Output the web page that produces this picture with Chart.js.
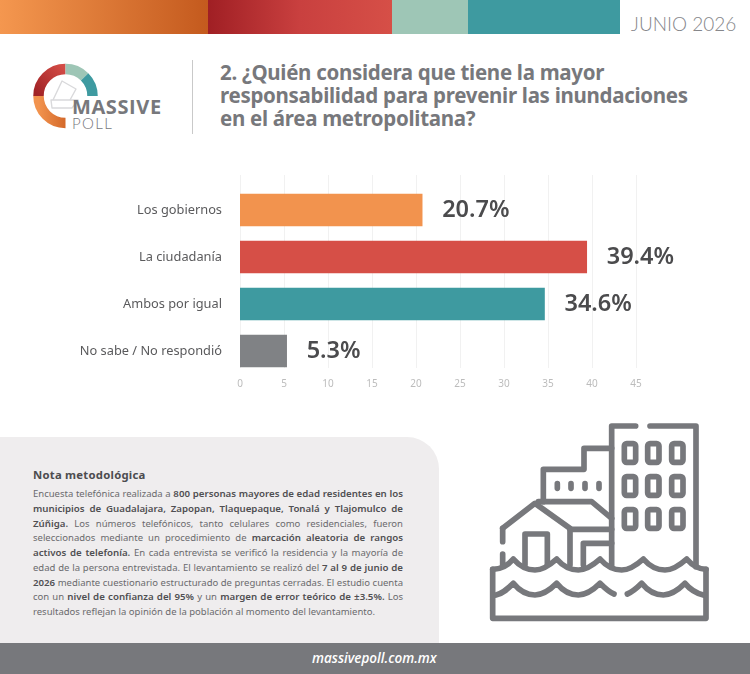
<!DOCTYPE html>
<html lang="es">
<head>
<meta charset="utf-8">
<title>Massive Poll - Junio 2026</title>
<script src="https://cdn.jsdelivr.net/npm/chart.js@4/dist/chart.umd.min.js"></script>
<style>
  html, body { margin: 0; padding: 0; background: #fff; }
  #page { position: relative; width: 750px; height: 674px; overflow: hidden; background: #fff; font-family: "Noto Sans", sans-serif; }
  #page > * { position: absolute; }
  .band { top: 0; height: 34px; }
  #month { left: 631px; top: 10px; font: 300 19px/28px Lato, sans-serif; color: #85868a; white-space: nowrap; }
  #divider { left: 192px; top: 60px; width: 1px; height: 74px; background: #c9c9c9; }
  #question { left: 220px; top: 61px; font: 700 20.5px/22.8px "Noto Sans", sans-serif; color: #77787c; white-space: nowrap; letter-spacing: -.3px; }
  #brand1 { left: 72px; top: 95px; font: 700 20px/24px "Open Sans", sans-serif; color: #77787c; letter-spacing: .6px; }
  #brand2 { left: 72px; top: 114px; font: 300 15px/18px Lato, sans-serif; color: #77787c; letter-spacing: 1.4px; }
  #chart { left: 0; top: 0; }
  #note { left: 0; top: 437px; width: 439px; height: 206px; background: #efedee; border-top-right-radius: 32px; }
  #noteTitle { left: 33px; top: 466px; font: 700 11.3px/18px "Noto Sans", sans-serif; color: #4c4c4e; letter-spacing: .25px; }
  #noteBody { left: 33px; top: 487px; width: 370px; font: 400 9.5px/14.75px "Noto Sans", sans-serif; color: #6a6a6d; }
  #noteBody div { text-align: justify; text-align-last: justify; white-space: nowrap; }
  #noteBody div:last-child { text-align-last: left; }
  #noteBody b { font-weight: 600; font-size: 9.7px; color: #4f4f52; }
  #footer { left: 0; top: 643px; width: 750px; height: 31px; background: #77787c; }
  #site { left: 312px; top: 647px; font: italic 600 13.5px/22px "Open Sans", sans-serif; color: #fff; white-space: nowrap; }
</style>
</head>
<body>
<div id="page">
  <div class="band" style="left:0;width:208px;background:linear-gradient(90deg,#f4974f,#c45a1e)"></div>
  <div class="band" style="left:208px;width:184px;background:linear-gradient(90deg,#a01f24,#c9403f 50%,#d64f47)"></div>
  <div class="band" style="left:392px;width:76px;background:#9ec6b6"></div>
  <div class="band" style="left:468px;width:152px;background:#3e9aa0"></div>
  <div id="month">JUNIO 2026</div>

  <!-- Brand mark: segmented ring and ballot box -->
  <svg style="left:0;top:50px" width="190" height="90" viewBox="0 50 190 90">
    <defs>
      <linearGradient id="ringOrange" x1="0" y1="0" x2="1" y2="0"><stop offset="0" stop-color="#f2934e"/><stop offset="1" stop-color="#d4692a"/></linearGradient>
      <linearGradient id="ringRed" x1="0" y1="1" x2="1" y2="0"><stop offset="0" stop-color="#a02225"/><stop offset="1" stop-color="#d34c46"/></linearGradient>
    </defs>
    <g fill="none" stroke-width="10.5">
      <path d="M38.5 96 A27 27 0 0 0 65.5 123" stroke="url(#ringOrange)"/>
      <path d="M38.5 96 A27 27 0 0 1 65.5 69" stroke="url(#ringRed)"/>
      <path d="M65.5 69 A27 27 0 0 1 84.6 76.9" stroke="#9ec6b6"/>
      <path d="M84.6 76.9 A27 27 0 0 1 92.5 96" stroke="#3e9aa0"/>
    </g>
    <g fill="none" stroke="#d9d9db" stroke-width="1.4" stroke-linejoin="round">
      <path d="M53 100 L62 81 L76 89 L70 100"/>
      <path d="M51 100 H78 L72 108 H52 Z"/>
    </g>
  </svg>
  <div id="brand1">MASSIVE</div>
  <div id="brand2">POLL</div>

  <div id="divider"></div>
  <div id="question">2. ¿Quién considera que tiene la mayor<br>responsabilidad para prevenir las inundaciones<br>en el área metropolitana?</div>

  <canvas id="chart" width="750" height="430"></canvas>

  <div id="note"></div>
  <div id="noteTitle">Nota metodológica</div>
  <div id="noteBody">
    <div>Encuesta telefónica realizada a <b>800 personas mayores de edad residentes en los</b></div>
    <div><b>municipios de Guadalajara, Zapopan, Tlaquepaque, Tonalá y Tlajomulco de</b></div>
    <div><b>Zúñiga.</b> Los números telefónicos, tanto celulares como residenciales, fueron</div>
    <div>seleccionados mediante un procedimiento de <b>marcación aleatoria de rangos</b></div>
    <div><b>activos de telefonía.</b> En cada entrevista se verificó la residencia y la mayoría de</div>
    <div>edad de la persona entrevistada. El levantamiento se realizó del <b>7 al 9 de junio de</b></div>
    <div><b>2026</b> mediante cuestionario estructurado de preguntas cerradas. El estudio cuenta</div>
    <div>con un <b>nivel de confianza del 95%</b> y un <b>margen de error teórico de ±3.5%.</b> Los</div>
    <div>resultados reflejan la opinión de la población al momento del levantamiento.</div>
  </div>

  <!-- Flooded buildings pictogram -->
  <svg style="left:470px;top:410px" width="260" height="230" viewBox="0 0 780 690" fill="none" stroke="#77787c" stroke-width="17" stroke-linecap="round" stroke-linejoin="round">
    <path d="M497 48 H425 V470"/>
    <path d="M540 48 H678 V470"/>
    <g stroke-width="17">
      <rect x="463" y="101" width="34" height="56" rx="7"/><rect x="533" y="101" width="34" height="56" rx="7"/><rect x="605" y="101" width="34" height="56" rx="7"/>
      <rect x="463" y="200" width="34" height="56" rx="7"/><rect x="533" y="200" width="34" height="56" rx="7"/><rect x="605" y="200" width="34" height="56" rx="7"/>
      <rect x="463" y="299" width="34" height="56" rx="7"/><rect x="533" y="299" width="34" height="56" rx="7"/><rect x="605" y="299" width="34" height="56" rx="7"/>
    </g>
    <path d="M425 115 H342 V178 H220 V275"/>
    <path d="M262 221 V235 M303 221 V235 M345 221 V235 M387 221 V235"/>
    <path d="M205 275 H365 L425 325"/>
    <path d="M98 355 L195 280 L300 355 V465"/>
    <path d="M98 355 V395 M98 432 V465"/>
    <path d="M165 465 V372 H232 V465"/>
    <path d="M300 358 H425"/>
    <path d="M340 465 V400 H425"/>
    <path d="M68 478 V625 H708 V478"/>
    <path d="M68 478 C95 478 115 465 130 447 C150 470 170 480 195 480 C220 480 240 465 260 447 C280 470 300 480 325 480 C350 480 370 465 390 447 C410 470 430 480 455 480 C480 480 500 465 520 447 C540 470 560 480 585 480 C610 480 630 465 650 447 C670 470 690 478 708 478"/>
    <path d="M78 555 C100 550 115 535 130 520 C150 545 170 555 195 555 C220 555 240 540 260 520 C280 545 300 555 325 555 C350 555 370 540 390 520 C405 535 420 548 432 552"/>
    <path d="M472 552 C490 545 505 530 515 520 C535 545 555 555 580 555 C605 555 625 540 645 520 C660 538 680 550 700 555"/>
  </svg>

  <div id="footer"></div>
  <div id="site">massivepoll.com.mx</div>
</div>

<script>
// Survey results: share of respondents for each answer, in percent
const categories = ["Los gobiernos", "La ciudadanía", "Ambos por igual", "No sabe / No respondió"];
const responseShares = [20.7, 39.4, 34.6, 5.3];
const barColors = ["#f2934e", "#d64f47", "#3e9aa0", "#808285"];
const percentTicks = [0, 5, 10, 15, 20, 25, 30, 35, 40, 45];

// Faint vertical guides, taller than the category band at the top
const guideLines = {
  id: "guideLines",
  beforeDatasetsDraw(chart) {
    const { ctx, scales: { x } } = chart;
    ctx.save();
    ctx.strokeStyle = "#f1f1f1";
    ctx.lineWidth = 1;
    percentTicks.forEach(t => {
      const px = Math.round(x.getPixelForValue(t)) + 0.5;
      ctx.beginPath();
      ctx.moveTo(px, 175);
      ctx.lineTo(px, 368);
      ctx.stroke();
    });
    ctx.restore();
  }
};

// Percentage printed just past the end of each bar
const valueLabels = {
  id: "valueLabels",
  afterDatasetsDraw(chart) {
    const { ctx } = chart;
    const meta = chart.getDatasetMeta(0);
    ctx.save();
    ctx.font = '600 23.5px "Noto Sans", sans-serif';
    ctx.fillStyle = "#4b4b4d";
    ctx.textAlign = "left";
    ctx.textBaseline = "middle";
    meta.data.forEach((bar, i) => {
      ctx.fillText(responseShares[i].toFixed(1) + "%", bar.x + 20, bar.y);
    });
    ctx.restore();
  }
};

new Chart(document.getElementById("chart"), {
  type: "bar",
  data: {
    labels: categories,
    datasets: [{
      data: responseShares,
      backgroundColor: barColors,
      borderWidth: 0,
      barThickness: 32
    }]
  },
  options: {
    indexAxis: "y",
    responsive: false,
    animation: false,
    layout: { padding: { left: 0, right: 114, top: 186.5, bottom: 35.5 } },
    plugins: { legend: { display: false }, tooltip: { enabled: false } },
    scales: {
      x: {
        type: "linear",
        min: 0,
        max: 45,
        afterBuildTicks(scale) { scale.ticks = percentTicks.map(value => ({ value })); },
        afterFit(scale) { scale.height = 20; },
        grid: { display: false, drawTicks: false },
        border: { display: false },
        ticks: { color: "#bcbcbc", padding: 4, maxRotation: 0, font: { family: "Noto Sans", size: 10 } }
      },
      y: {
        type: "category",
        afterFit(scale) { scale.width = 240; },
        grid: { display: false, drawTicks: false },
        border: { display: false },
        ticks: { color: "#5a5a5c", padding: 18, font: { family: "Noto Sans", size: 12.8 } }
      }
    }
  },
  plugins: [guideLines, valueLabels]
});
</script>
</body>
</html>
